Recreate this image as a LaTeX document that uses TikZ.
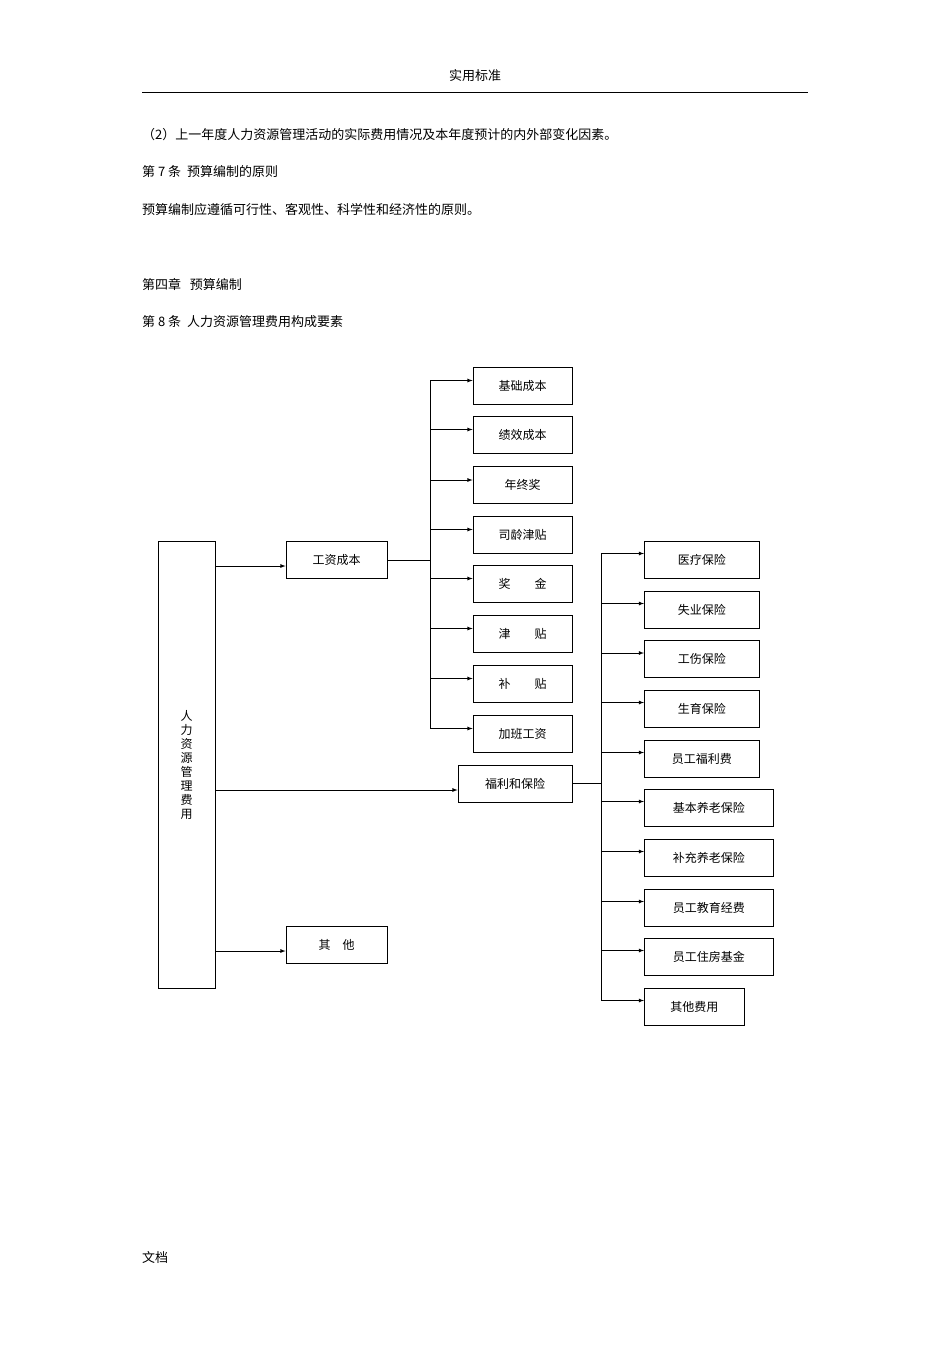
\documentclass[tikz,border=0pt]{standalone}
\usepackage{fontspec}
\setmainfont{Noto Sans CJK SC}
\usetikzlibrary{arrows,positioning,calc}
\tikzset{
  box/.style={draw,thick,inner sep=0pt,minimum height=37pt,font=\fontsize{12}{14}\selectfont},
  txt/.style={anchor=west,inner sep=0pt,font=\fontsize{13}{15}\selectfont},
  link/.style={-latex,thick},
  bus/.style={thick}
}
\begin{document}
\begin{tikzpicture}[x=1pt,y=-1pt]
  \useasboundingbox (0,0) rectangle (950,1345);

  % page text
  \node[txt,anchor=center] (head) at (475,76) {实用标准};
  \draw (142,92) -- (808,92);
  \node[txt] (t1) at (142,135) {（2）上一年度人力资源管理活动的实际费用情况及本年度预计的内外部变化因素。};
  \node[txt] (t2) at (142,172) {第 7 条\ \ 预算编制的原则};
  \node[txt] (t3) at (142,210) {预算编制应遵循可行性、客观性、科学性和经济性的原则。};
  \node[txt] (t4) at (142,284) {第四章\ \ \ 预算编制};
  \node[txt] (t5) at (142,322) {第 8 条\ \ 人力资源管理费用构成要素};
  \node[txt] (foot) at (142,1257) {文档};

  % main
  \node[box,minimum width=57pt,minimum height=447pt,align=center] (main) at (186.5,764.5)
    {人\\力\\资\\源\\管\\理\\费\\用};
  \node[box,minimum width=101pt] (wage) at (336.5,559.5) {工资成本};
  \node[box,minimum width=114pt] (welf) at (515,783.5) {福利和保险};
  \node[box,minimum width=101pt] (other) at (336.5,944.5) {其\quad 他};

  \draw[link] (main.east |- 0,566) -- (wage.west |- 0,566);
  \draw[link] (main.east |- 0,790) -- (welf.west |- 0,790);
  \draw[link] (main.east |- 0,951) -- (other.west |- 0,951);

  % wage items
  \coordinate (wb) at (430,560);
  \draw[bus] (wage.east |- wb) -- (wb);
  \foreach \n/\t/\y in {a/基础成本/385.5,b/绩效成本/434.5,c/年终奖/485,d/司龄津贴/534.5,
                        e/奖\qquad 金/583.5,f/津\qquad 贴/633.5,g/补\qquad 贴/683.5,h/加班工资/733.5}
  {
    \node[box,minimum width=99pt] (w\n) at (522.5,\y) {\t};
    \draw[link] (430,\y-5) -- (w\n.west |- 0,\y-5);
  }
  \draw[bus] (430,380.5) -- (430,728.5);

  % welfare items
  \coordinate (fb) at (601,783);
  \draw[bus] (welf.east |- fb) -- (fb);
  \foreach \n/\t/\y/\w in {a/医疗保险/559.5/115,b/失业保险/609.5/115,c/工伤保险/659/115,
                           d/生育保险/708.5/115,e/员工福利费/758.5/115,f/基本养老保险/807.5/129,
                           g/补充养老保险/857.5/129,h/员工教育经费/907.5/129,i/员工住房基金/956.5/129,
                           j/其他费用/1006.5/100}
  {
    \node[box,minimum width=\w pt,anchor=west] (f\n) at (644,\y) {\t};
    \draw[link] (601,\y-6) -- (f\n.west |- 0,\y-6);
  }
  \draw[bus] (601,553.5) -- (601,1000.5);
\end{tikzpicture}
\end{document}
